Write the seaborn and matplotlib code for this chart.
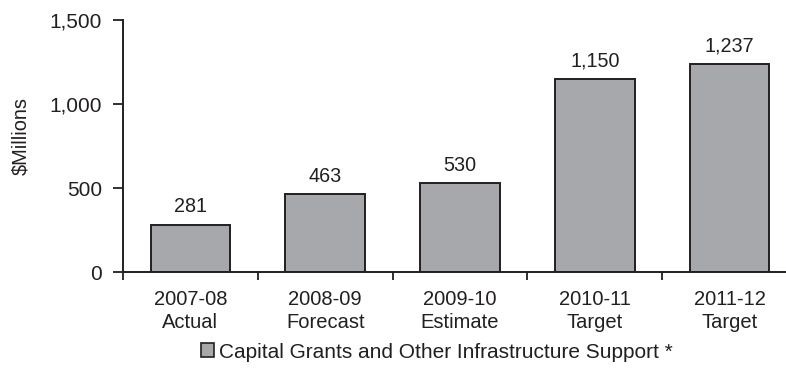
import matplotlib
matplotlib.use("Agg")
import matplotlib.pyplot as plt
from matplotlib.ticker import FixedLocator, FuncFormatter
import seaborn as sns
import pandas as pd

periods = ["2007-08", "2008-09", "2009-10", "2010-11", "2011-12"]
stages = ["Actual", "Forecast", "Estimate", "Target", "Target"]
values = [281, 463, 530, 1150, 1237]
series_name = "Capital Grants and Other Infrastructure Support *"

sns.set_theme(style="white")
plt.rcParams["font.family"] = ["Liberation Sans", "DejaVu Sans"]

df = pd.DataFrame({
    "category": [f"{p}\n{s}" for p, s in zip(periods, stages)],
    "value": values,
})

fig = plt.figure(figsize=(7.86, 3.83), dpi=100)
ax = fig.add_axes([123 / 786, 1 - 272 / 383, 674 / 786, 252 / 383])

ink = "#231f20"
fill = "#a6a8ab"
sns.barplot(data=df, x="category", y="value", color=fill,
            saturation=1, edgecolor=ink, linewidth=1.4, width=0.59, ax=ax)

ax.set_xlim(-0.5, len(values) - 0.5)
ax.set_ylim(0, 1500)
ax.set_yticks([0, 500, 1000, 1500])
ax.yaxis.set_major_formatter(FuncFormatter(lambda v, _: f"{int(v):,}"))

for i, v in enumerate(values):
    ax.annotate(f"{v:,}", (i, v), xytext=(0, 6), textcoords="offset points",
                ha="center", va="bottom", fontsize=14.2, color=ink)

# category separators as minor ticks, labels on unticked majors
ax.xaxis.set_minor_locator(FixedLocator([i - 0.5 for i in range(len(values) + 1)]))
ax.tick_params(axis="x", which="major", length=0, pad=13, labelsize=14.5, labelcolor=ink)
ax.tick_params(axis="x", which="minor", length=6, width=1.3, color=ink, direction="out", bottom=True)
ax.tick_params(axis="y", which="major", length=7, width=1.3, color=ink, direction="out",
               left=True, pad=8, labelsize=15, labelcolor=ink)
for lbl in ax.get_xticklabels():
    lbl.set_linespacing(1.25)

for side in ["top", "right"]:
    ax.spines[side].set_visible(False)
for side in ["left", "bottom"]:
    ax.spines[side].set_color(ink)
    ax.spines[side].set_linewidth(1.4)

ax.set_xlabel("")
ax.set_ylabel("$Millions", fontsize=14.4, color=ink)
ax.yaxis.set_label_coords(-0.137, 0.54)

handle = plt.Rectangle((0, 0), 1, 1, facecolor=fill, edgecolor=ink, linewidth=1.2)
fig.legend([handle], [series_name], loc="center", bbox_to_anchor=(437 / 786, 1 - 352 / 383),
           frameon=False, fontsize=15, handlelength=0.62, handleheight=0.62,
           handletextpad=0.28, borderpad=0, labelcolor=ink)

fig.savefig("out.png", dpi=100)
